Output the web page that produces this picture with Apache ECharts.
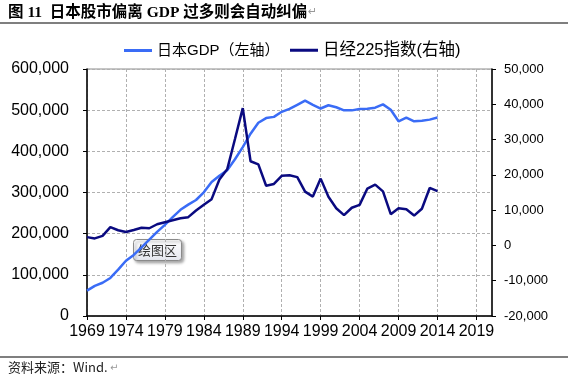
<!DOCTYPE html>
<html><head><meta charset="utf-8">
<script src="https://cdn.jsdelivr.net/npm/echarts@6/dist/echarts.min.js"></script>
<style>html,body{margin:0;padding:0;background:#fff}#c{width:568px;height:382px}</style>
</head><body><div id="c"></div>
<script>
const years = ['1969','1970','1971','1972','1973','1974','1975','1976','1977','1978','1979','1980','1981','1982','1983','1984','1985','1986','1987','1988','1989','1990','1991','1992','1993','1994','1995','1996','1997','1998','1999','2000','2001','2002','2003','2004','2005','2006','2007','2008','2009','2010','2011','2012','2013','2014','2015','2016','2017','2018','2019','2020','2021'];
const gdpName = '日本GDP（左轴）';
const nikkeiName = '日经225指数(右轴)';
const gdp = [61500,73300,80700,92400,112500,134200,148300,166600,185600,204400,221500,240200,257900,270600,281800,300500,325400,340600,354200,380700,410100,442800,469400,480800,483700,496000,503000,513000,523000,513000,504000,512000,507000,499500,499500,503000,503500,506000,514000,501000,473000,482000,473000,474500,477000,482000];
const nikkei = [2358,1987,2714,5208,4307,3817,4359,4991,4866,6002,6570,7116,7682,8017,9894,11543,13113,18701,21564,30159,38916,23849,22984,16925,17417,19723,19868,19361,15259,13842,18934,13786,10543,8579,10677,11489,16111,17226,15308,8860,10546,10229,8455,10395,16291,15400];
const leftAxis = {min:0, max:600000, interval:100000};
const rightAxis = {min:-20000, max:50000, interval:10000};

function fmt(v){ return String(v).replace(/\B(?=(\d{3})+(?!\d))/g, ','); }
const FONT = '"Liberation Sans", Arial, "Noto Sans CJK SC", sans-serif';
const chart = echarts.init(document.getElementById('c'), null, {renderer:'canvas'});
chart.setOption({
  animation:false,
  backgroundColor:'#fff',
  grid:{left:87, right:76, top:69, bottom:66, show:true, borderColor:'#8c8c8c', borderWidth:1, backgroundColor:'transparent'},
  legend:[
    {left:119, top:38, data:[{name:gdpName, icon:'rect'}], itemWidth:28, itemHeight:3, itemGap:4,
     textStyle:{fontSize:15, fontFamily:FONT, color:'#000'}},
    {left:285, top:37, data:[{name:nikkeiName, icon:'rect'}], itemWidth:28, itemHeight:3, itemGap:4,
     textStyle:{fontSize:16.5, fontFamily:FONT, color:'#000'}}
  ],
  xAxis:{type:'category', data:years, boundaryGap:false,
    axisLine:{lineStyle:{color:'#000', width:1.5}},
    axisTick:{interval:4, length:4, lineStyle:{color:'#000'}},
    axisLabel:{interval:4, fontSize:16, fontFamily:FONT, color:'#000', margin:8},
    splitLine:{show:true, interval:4, lineStyle:{color:'#b0b0b0', type:[3,2], width:1}}
  },
  yAxis:[
    {type:'value', min:leftAxis.min, max:leftAxis.max, interval:leftAxis.interval, position:'left',
     axisLine:{show:true, lineStyle:{color:'#000', width:1.5}},
     axisTick:{show:true, length:4, lineStyle:{color:'#000'}},
     axisLabel:{formatter:fmt, fontSize:16, fontFamily:FONT, color:'#000', margin:18},
     splitLine:{show:true, lineStyle:{color:'#b0b0b0', type:[3,2], width:1}}},
    {type:'value', min:rightAxis.min, max:rightAxis.max, interval:rightAxis.interval, position:'right',
     axisLine:{show:true, lineStyle:{color:'#000', width:1.5}},
     axisTick:{show:true, length:4, lineStyle:{color:'#000'}},
     axisLabel:{formatter:fmt, fontSize:13, fontFamily:FONT, color:'#000', margin:12},
     splitLine:{show:false}}
  ],
  series:[
    {name:gdpName, type:'line', yAxisIndex:0, data:gdp, showSymbol:false, smooth:false,
     lineStyle:{color:'#3a6cf6', width:2.5}, itemStyle:{color:'#3a6cf6'}},
    {name:nikkeiName, type:'line', yAxisIndex:1, data:nikkei, showSymbol:false, smooth:false,
     lineStyle:{color:'#0a0a80', width:2.5}, itemStyle:{color:'#0a0a80'}}
  ],
  graphic:[
    {type:'text', left:8, top:5, z:10, style:{text:'图 11  日本股市偏离 GDP 过多则会自动纠偏', fontSize:15.5, fontWeight:'bold', fontFamily:'"Liberation Serif", "Noto Sans CJK SC", serif', fill:'#000'}},
    {type:'text', left:308, top:7, z:10, style:{text:'↵', fontSize:11, fontFamily:'"DejaVu Sans", sans-serif', fill:'#999'}},
    {type:'line', z:10, shape:{x1:0, y1:23, x2:568, y2:23}, style:{stroke:'#000', lineWidth:1.2}},
    {type:'line', z:10, shape:{x1:0, y1:357, x2:568, y2:357}, style:{stroke:'#000', lineWidth:1.2}},
    {type:'text', left:8, top:361, z:10, style:{text:'资料来源：Wind.', fontSize:13, fontFamily:'"Noto Sans CJK SC", "Liberation Mono", sans-serif', fill:'#222'}},
    {type:'text', left:110, top:363, z:10, style:{text:'↵', fontSize:10, fontFamily:'"DejaVu Sans", sans-serif', fill:'#999'}},
    {type:'group', left:133, top:239, z:100, children:[
      {type:'rect', shape:{x:0, y:0, width:48, height:21, r:3},
       style:{fill:{type:'linear', x:0, y:0, x2:0, y2:1, colorStops:[{offset:0,color:'#ffffff'},{offset:1,color:'#e4e6ee'}]},
              stroke:'#8a8a8a', lineWidth:1, shadowBlur:3, shadowOffsetX:2, shadowOffsetY:2, shadowColor:'rgba(0,0,0,0.35)'}},
      {type:'text', x:24, y:10.5, style:{text:'绘图区', fontSize:13, fontFamily:'"Noto Sans CJK SC", sans-serif', fill:'#333', align:'center', verticalAlign:'middle'}}
    ]}
  ]
});
</script></body></html>
